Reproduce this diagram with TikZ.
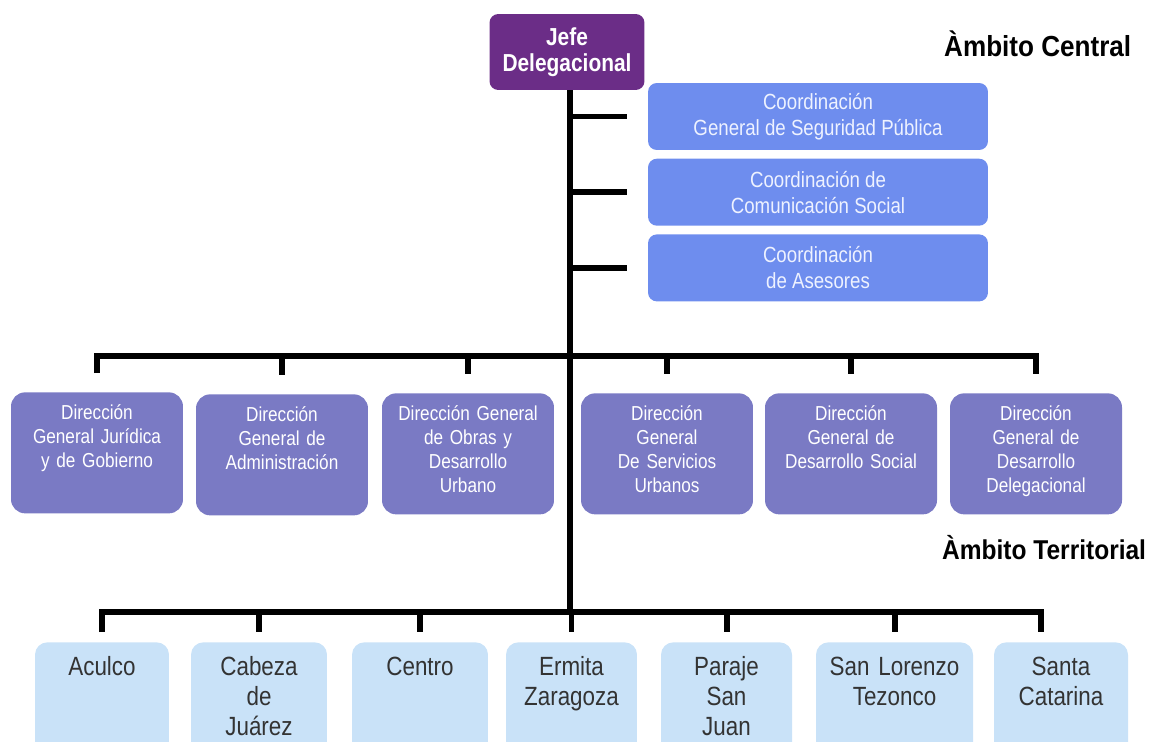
\documentclass[tikz,border=0pt]{standalone}
\usepackage{fontspec}
\setmainfont{Liberation Sans}[FakeStretch=0.85]
\newfontfamily\headfont{Liberation Sans}[FakeStretch=0.9]
\usetikzlibrary{positioning}

\definecolor{jefecol}{HTML}{6B2D87}
\definecolor{coordcol}{HTML}{6E8DEE}
\definecolor{coordtext}{HTML}{EEF2FF}
\definecolor{dircol}{HTML}{7A7AC4}
\definecolor{terrcol}{HTML}{C9E2F8}
\definecolor{terrtext}{HTML}{333333}

\begin{document}
\begin{tikzpicture}[x=0.02cm,y=-0.02cm,
    line/.style={line width=3.4pt},
    jefe box/.style={fill=jefecol,rounded corners=5pt,minimum width=3.1cm,minimum height=1.52cm,align=center,text=white,font=\fontsize{14}{14.7}\selectfont\bfseries},
    coord box/.style={fill=coordcol,rounded corners=5pt,minimum width=6.8cm,minimum height=1.34cm,align=center,text=coordtext,font=\fontsize{12.5}{14.7}\selectfont},
    dir box/.style={fill=dircol,rounded corners=8pt,anchor=north,text width=3.44cm,align=center,inner xsep=0pt,inner ysep=0pt,text height=0.54cm,text depth=1.88cm,text=white,font=\fontsize{11.5}{13.6}\selectfont},
    terr box/.style={fill=terrcol,rounded corners=7pt,anchor=north,align=center,inner xsep=0pt,inner ysep=0pt,text height=0.66cm,text depth=1.7cm,text=terrtext,font=\fontsize{15}{17}\selectfont},
    head/.style={anchor=west,font=\headfont\bfseries\fontsize{16.5}{19}\selectfont}]
    \clip (0,0) rectangle (1165,741);

    % ambito central
    \node[jefe box] (jefe) at (567,52) {Jefe\\Delegacional};
    \node[head] (central) at (938,44) {Àmbito Central};
    \node[coord box] (c1) at (818,116.5) {Coordinación\\General de Seguridad Pública};
    \node[coord box] (c2) [below=0.16cm of c1] {Coordinación de\\Comunicación Social};
    \node[coord box] (c3) [below=0.16cm of c2] {Coordinación\\de Asesores};

    % direcciones generales
    \node[dir box] (m1) at (97,392) {Dirección\\General Jurídica\\y de Gobierno};
    \node[dir box] (m2) at (282,394) {Dirección\\General de\\Administración};
    \node[dir box] (m3) at (468,393) {Dirección General\\de Obras y\\Desarrollo\\Urbano};
    \node[dir box] (m4) at (667,393) {Dirección\\General\\De Servicios\\Urbanos};
    \node[dir box] (m5) at (851,393) {Dirección\\General de\\Desarrollo Social};
    \node[dir box] (m6) at (1036,393) {Dirección\\General de\\Desarrollo\\Delegacional};

    % ambito territorial
    \node[head,font=\headfont\bfseries\fontsize{15.5}{19}\selectfont] (territorial) at (936,548) {Àmbito Territorial};
    \node[terr box,text width=2.68cm] (t1) at (102,642) {Aculco};
    \node[terr box,text width=2.72cm] (t2) at (259,642) {Cabeza\\de\\Juárez};
    \node[terr box,text width=2.72cm] (t3) at (420,642) {Centro};
    \node[terr box,text width=2.62cm] (t4) at (571.5,642) {Ermita\\Zaragoza};
    \node[terr box,text width=2.62cm] (t5) at (726.5,642) {Paraje\\San\\Juan};
    \node[terr box,text width=3.14cm] (t6) at (894.5,642) {San Lorenzo\\Tezonco};
    \node[terr box,text width=2.68cm] (t7) at (1061,642) {Santa\\Catarina};

    \coordinate (mbus) at (570,356);
    \coordinate (tbus) at (570,612);
    \coordinate (tend) at (1041,612);

    % lines
    \draw[line] (jefe.south -| tbus) -- (tbus);
    \foreach \n in {1,2,3}
      \draw[line,shorten >=0.42cm] (c\n.west -| tbus) -- (c\n.west);
    \draw[line,shorten <=0.38cm,shorten >=0.38cm] (m1.north) -- (m1.north |- mbus) -- (m6.north |- mbus) -- (m6.north);
    \foreach \n in {2,3,4,5}
      \draw[line,shorten >=0.38cm] (m\n.north |- mbus) -- (m\n.north);
    \draw[line,shorten <=0.2cm,shorten >=0.2cm] (t1.north) -- (t1.north |- tbus) -- (tend) -- (tend |- t7.north);
    \foreach \n in {2,...,6}
      \draw[line,shorten >=0.2cm] (t\n.north |- tbus) -- (t\n.north);
\end{tikzpicture}
\end{document}
